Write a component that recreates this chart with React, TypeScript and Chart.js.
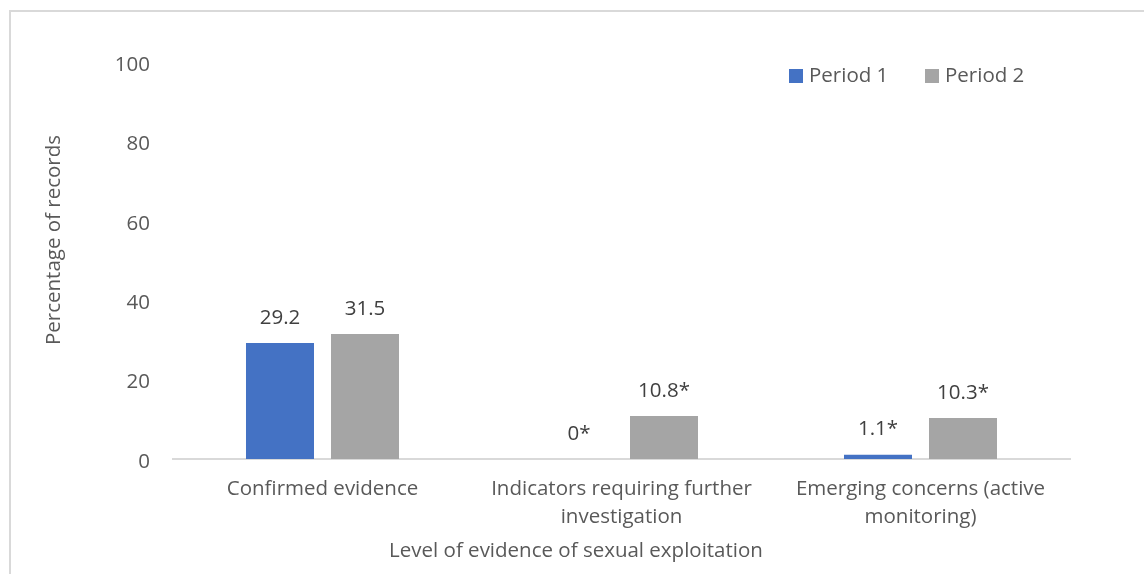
import React, { useEffect, useRef } from "react";
import { Chart, registerables } from "chart.js";

Chart.register(...registerables);

const categories: string[][] = [
  ["Confirmed evidence"],
  ["Indicators requiring further", "investigation"],
  ["Emerging concerns (active", "monitoring)"],
];
const seriesNames = ["Period 1", "Period 2"];
const period1 = [29.2, 0, 1.1];
const period2 = [31.5, 10.8, 10.3];
const period1Labels = ["29.2", "0*", "1.1*"];
const period2Labels = ["31.5", "10.8*", "10.3*"];
const yMin = 0;
const yMax = 100;
const yStep = 20;
const yTitle = "Percentage of records";
const xTitle = "Level of evidence of sexual exploitation";

const BLUE = "#4472C4";
const GREY = "#A5A5A5";
const TEXT = "#595959";
const LABEL = "#404040";
const FONT_FAMILY = '"Open Sans", "Noto Sans", sans-serif';
const FONT_SIZE = 20.5;
const fontStr = `${FONT_SIZE}px ${FONT_FAMILY}`;

const labelSets = [period1Labels, period2Labels];

const dataLabelPlugin = {
  id: "dataLabels",
  afterDatasetsDraw(chart: any) {
    const ctx = chart.ctx;
    ctx.save();
    ctx.font = fontStr;
    ctx.fillStyle = LABEL;
    ctx.textAlign = "center";
    ctx.textBaseline = "middle";
    chart.data.datasets.forEach((_ds: any, di: number) => {
      const meta = chart.getDatasetMeta(di);
      meta.data.forEach((el: any, i: number) => {
        ctx.fillText(labelSets[di][i], el.x, el.y - 25);
      });
    });
    ctx.restore();
  },
};

const legendPlugin = {
  id: "customLegend",
  afterDraw(chart: any) {
    const ctx = chart.ctx;
    ctx.save();
    ctx.font = fontStr;
    ctx.textBaseline = "middle";
    ctx.textAlign = "left";
    const positions = [789, 925];
    const cy = 76;
    chart.data.datasets.forEach((ds: any, i: number) => {
      const x = positions[i];
      ctx.fillStyle = ds.backgroundColor;
      ctx.fillRect(x, cy - 7, 14, 14);
      ctx.fillStyle = TEXT;
      ctx.fillText(ds.label, x + 20, cy);
    });
    ctx.restore();
  },
};

const axisTitlePlugin = {
  id: "axisTitles",
  afterDraw(chart: any) {
    const ctx = chart.ctx;
    ctx.save();
    ctx.font = fontStr;
    ctx.fillStyle = TEXT;
    ctx.textAlign = "center";
    ctx.textBaseline = "middle";
    ctx.fillText(xTitle, 576, 551);
    ctx.translate(54, 240);
    ctx.rotate(-Math.PI / 2);
    ctx.fillText(yTitle, 0, 0);
    ctx.restore();
  },
};

export default function App() {
  const canvasRef = useRef<HTMLCanvasElement | null>(null);

  useEffect(() => {
    if (!canvasRef.current) return;
    const chart = new Chart(canvasRef.current, {
      type: "bar",
      data: {
        labels: categories as any,
        datasets: [
          {
            label: seriesNames[0],
            data: period1,
            backgroundColor: BLUE,
            categoryPercentage: 0.5686,
            barPercentage: 0.8,
          },
          {
            label: seriesNames[1],
            data: period2,
            backgroundColor: GREY,
            categoryPercentage: 0.5686,
            barPercentage: 0.8,
          },
        ],
      },
      options: {
        responsive: false,
        animation: false,
        layout: { padding: { left: 0, right: 74, top: 62, bottom: 0 } },
        plugins: {
          legend: { display: false },
          tooltip: { enabled: false },
          title: { display: false },
        },
        scales: {
          x: {
            grid: { display: false, drawTicks: false },
            border: { display: true, color: "#D9D9D9", width: 2 },
            ticks: {
              color: TEXT,
              padding: 16,
              maxRotation: 0,
              autoSkip: false,
              font: { family: FONT_FAMILY, size: FONT_SIZE, lineHeight: 1.37 },
            },
            afterFit(scale: any) {
              scale.height = 115;
            },
          },
          y: {
            min: yMin,
            max: yMax,
            grid: { display: false, drawTicks: false },
            border: { display: false },
            ticks: {
              stepSize: yStep,
              color: TEXT,
              padding: 23,
              labelOffset: 3,
              font: { family: FONT_FAMILY, size: FONT_SIZE },
            },
            afterFit(scale: any) {
              scale.width = 173;
            },
          },
        },
      },
      plugins: [dataLabelPlugin, legendPlugin, axisTitlePlugin],
    });
    return () => chart.destroy();
  }, []);

  return (
    <div
      style={{
        position: "absolute",
        left: 0,
        top: 0,
        width: 1144,
        height: 574,
        overflow: "hidden",
        background: "#fff",
      }}
    >
      <div
        style={{
          position: "absolute",
          left: 9,
          top: 10,
          width: 1300,
          height: 800,
          border: "2px solid #D9D9D9",
          boxSizing: "border-box",
        }}
      />
      <canvas
        ref={canvasRef}
        width={1144}
        height={574}
        style={{ position: "absolute", left: 0, top: 0, width: 1144, height: 574 }}
      />
    </div>
  );
}
